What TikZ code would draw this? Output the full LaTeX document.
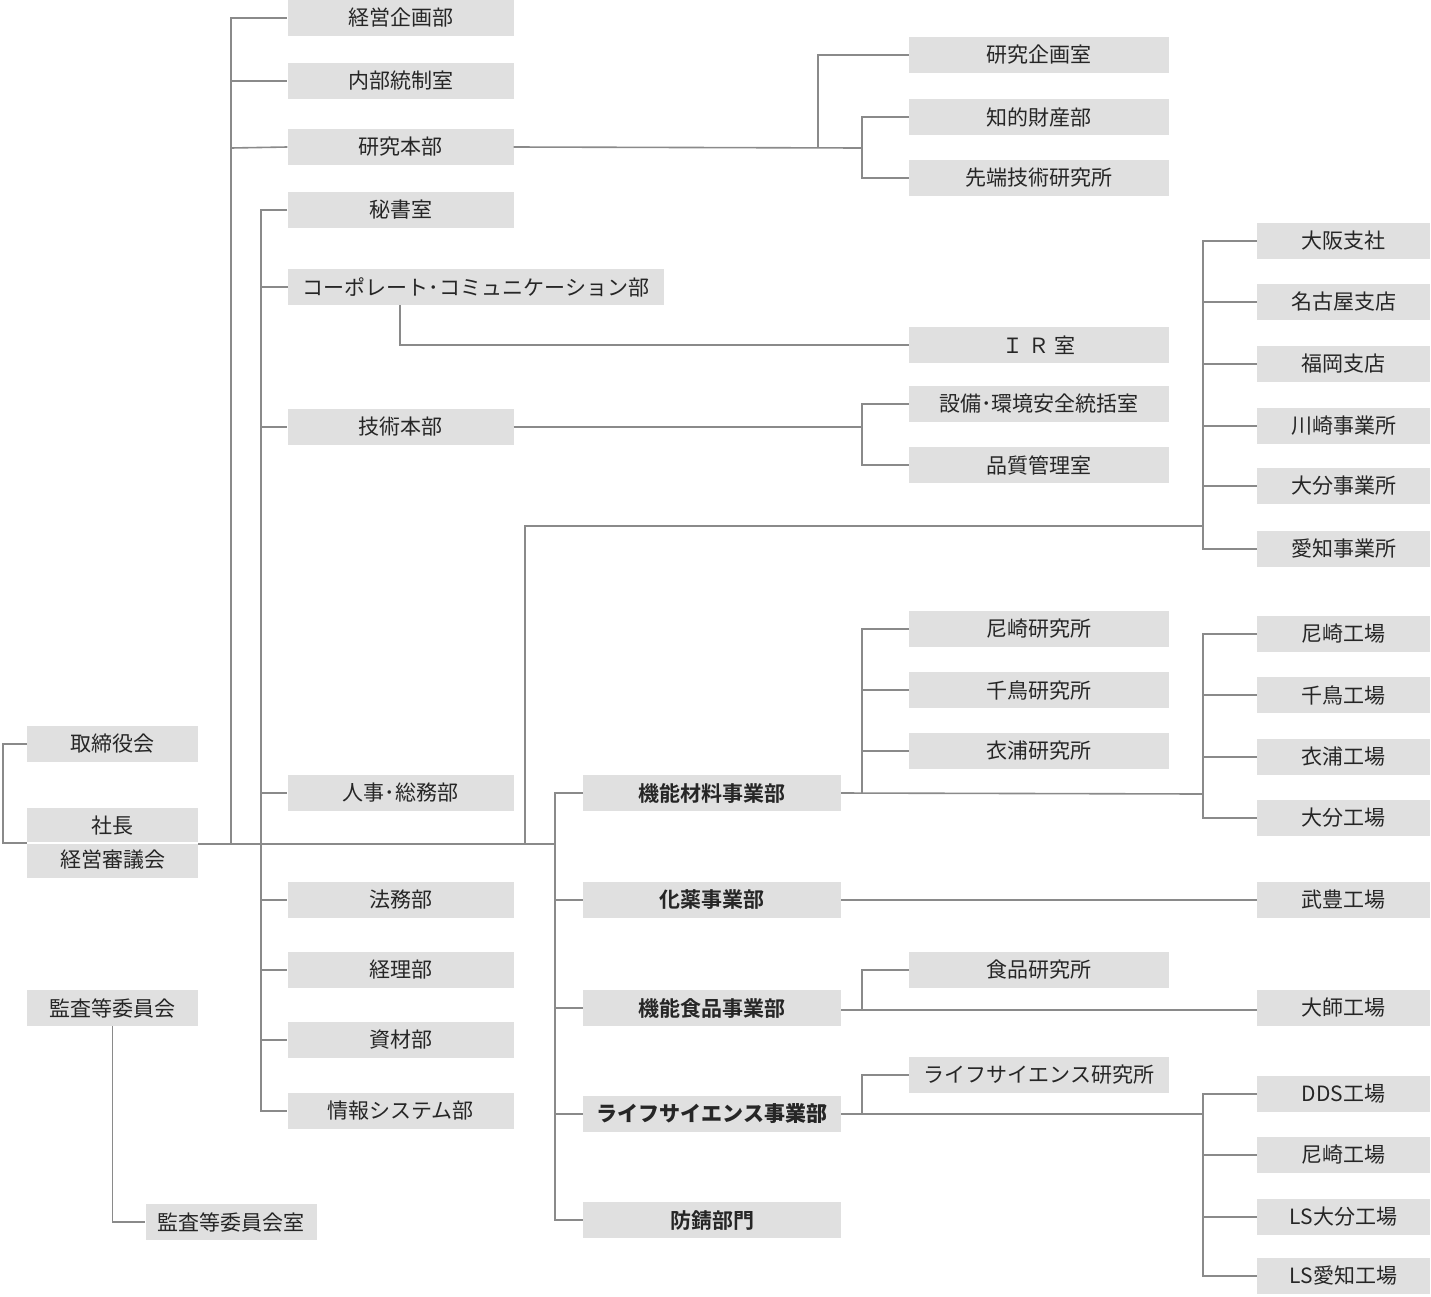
\documentclass[tikz,border=0pt]{standalone}
\usepackage{fontspec}
\setmainfont{Noto Sans CJK JP}
\newfontfamily\jpb{Noto Sans CJK JP Bold}
\begin{document}
\begin{tikzpicture}[x=1pt,y=-1pt,
 bx/.style={fill=boxc,inner sep=0pt,minimum height=36pt,text=black!85,font=\fontsize{21}{24}\selectfont},
 wA/.style={bx,minimum width=171pt},
 wB/.style={bx,minimum width=226pt},
 wC/.style={bx,minimum width=260pt},
 wD/.style={bx,minimum width=258pt},
 wE/.style={bx,minimum width=173pt},
 ln/.style={draw=linec,line width=1.6pt}]
\definecolor{boxc}{HTML}{E0E0E0}
\definecolor{linec}{HTML}{8A8A8A}
\useasboundingbox (0,0) rectangle (1431,1296);
% left
\node[wA] (tori) at (112.5,744) {取締役会};
\node[wA,minimum height=70pt,align=center,font=\fontsize{21}{34}\selectfont] (shacho) at (112.5,843) {社長\\経営審議会};
\draw[white,line width=1.2pt] (27,843) -- (198,843);
\node[wA] (kansa) at (112.5,1008) {監査等委員会};
\node[wA] (kansash) at (231,1222) {監査等委員会室};
% column 2
\node[wB] (b1) at (400.5,18) {経営企画部};
\node[wB] (b2) at (400.5,81) {内部統制室};
\node[wB] (b3) at (400.5,147) {研究本部};
\node[wB] (b4) at (400.5,210) {秘書室};
\node[bx,minimum width=376pt] (b5) at (476,287) {コーポレート･コミュニケーション部};
\node[wB] (b6) at (400.5,427) {技術本部};
\node[wB] (b7) at (400.5,793) {人事･総務部};
\node[wB] (b8) at (400.5,900) {法務部};
\node[wB] (b9) at (400.5,970) {経理部};
\node[wB] (b10) at (400.5,1040) {資材部};
\node[wB] (b11) at (400.5,1111) {情報システム部};
% column 4 (research etc.)
\node[wC] (c1) at (1039,55) {研究企画室};
\node[wC] (c2) at (1039,117) {知的財産部};
\node[wC] (c3) at (1039,178) {先端技術研究所};
\node[wC] (c4) at (1039,345) {Ｉ Ｒ 室};
\node[wC] (c5) at (1039,404) {設備･環境安全統括室};
\node[wC] (c6) at (1039,465) {品質管理室};
\node[wC] (c7) at (1039,629) {尼崎研究所};
\node[wC] (c8) at (1039,690) {千鳥研究所};
\node[wC] (c9) at (1039,751) {衣浦研究所};
\node[wC] (c10) at (1039,970) {食品研究所};
\node[wC] (c11) at (1039,1075) {ライフサイエンス研究所};
% divisions
\node[wD] (d1) at (712,793) {\jpb 機能材料事業部};
\node[wD] (d2) at (712,900) {\jpb 化薬事業部};
\node[wD] (d3) at (712,1008) {\jpb 機能食品事業部};
\node[wD] (d4) at (712,1114) {\jpb\bfseries ライフサイエンス事業部};
\node[wD] (d5) at (712,1220) {\jpb 防錆部門};
% right column
\foreach \n/\y/\t in {e1/241/大阪支社,e2/302/名古屋支店,e3/364/福岡支店,e4/426/川崎事業所,e5/486/大分事業所,e6/549/愛知事業所,
 f1/634/尼崎工場,f2/695/千鳥工場,f3/757/衣浦工場,f4/818/大分工場,g1/900/武豊工場,g2/1008/大師工場,
 h1/1094/DDS工場,h2/1155/尼崎工場,h3/1217/LS大分工場,h4/1276/LS愛知工場}
 {\node[wE] (\n) at (1343.5,\y) {\t};}
% connectors
\coordinate (m) at (555,844);
\draw[ln] (tori.west) -- (3,744) |- (shacho.west);
\draw[ln] (198,844) -- (m);
\draw[ln] (231,844) -- (231,18) -- (b1.west);
\draw[ln] (231,81) -- (b2.west);
\draw[ln] (231,148) -- (b3.west);
\draw[ln] (b4.west) -- (261,210) -- (261,1111) -- (b11.west);
\foreach \b in {b5,b6,b7,b8,b9,b10} \draw[ln] (261,0 |- \b.west) -- (\b.west);
% research
\draw[ln] (b3.east) -- (862,148);
\draw[ln] (818,148) |- (c1.west);
\draw[ln] (c2.west) -| (862,148) |- (c3.west);
\draw[ln] (400,305) |- (c4.west);
\draw[ln] (b6.east) -- (862,427);
\draw[ln] (c5.west) -| (862,427) |- (c6.west);
% branches
\draw[ln] (525,844) -- (525,526) -- (1203,526);
\draw[ln] (e1.west) -| (1203,549) -- (e6.west);
\foreach \b in {e2,e3,e4,e5} \draw[ln] (1203,0 |- \b.west) -- (\b.west);
\draw[ln] (d1.west) -| (555,1220) -- (d5.west);
\foreach \b in {d2,d3,d4} \draw[ln] (555,0 |- \b.west) -- (\b.west);
\draw[ln] (d1.east) -- (1203,794);
\draw[ln] (c7.west) -| (862,794);
\foreach \b in {c8,c9} \draw[ln] (862,0 |- \b.west) -- (\b.west);
\draw[ln] (f1.west) -| (1203,818) -- (f4.west);
\foreach \b in {f2,f3} \draw[ln] (1203,0 |- \b.west) -- (\b.west);
\draw[ln] (d2.east) -- (g1.west);
\draw[ln] (841,1010) -- (1257,1010);
\draw[ln] (c10.west) -| (862,1010);
\draw[ln] (841,1114) -- (1203,1114);
\draw[ln] (c11.west) -| (862,1114);
\draw[ln] (h1.west) -| (1203,1276) -- (h4.west);
\foreach \b in {h2,h3} \draw[ln] (1203,0 |- \b.west) -- (\b.west);
\draw[ln] (kansa.south) |- (kansash.west);
\end{tikzpicture}
\end{document}
